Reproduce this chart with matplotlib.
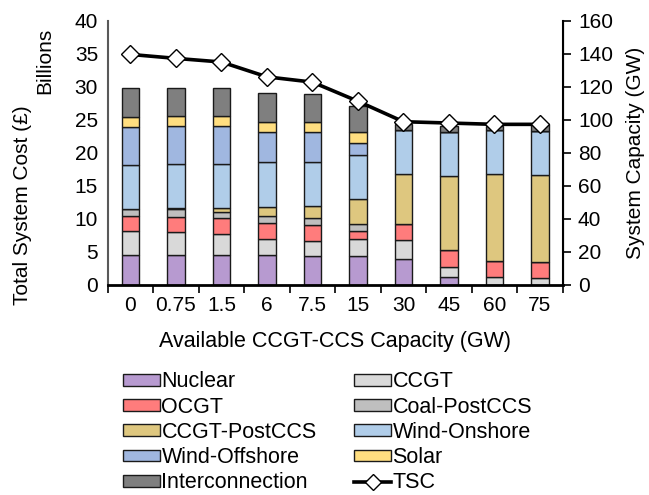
import numpy as np
import matplotlib.pyplot as plt
from matplotlib.patches import Patch
from matplotlib.lines import Line2D

plt.rcParams['font.family'] = ['Liberation Sans', 'DejaVu Sans']

# available CCGT-CCS capacity scenarios (GW)
categories = ['0', '0.75', '1.5', '6', '7.5', '15', '30', '45', '60', '75']

# installed capacity by technology (GW)
nuclear = [17.7, 17.7, 17.7, 17.7, 17.5, 17.5, 15.5, 4.7, 0.0, 0.0]
ccgt = [15.0, 14.4, 12.8, 9.8, 9.1, 10.0, 11.5, 6.1, 4.7, 4.1]
ocgt = [9.0, 9.1, 9.7, 10.0, 9.5, 5.2, 9.8, 10.2, 9.8, 9.8]
coal_ccs = [4.0, 4.6, 4.0, 4.1, 4.1, 4.1, 0.0, 0.0, 0.0, 0.0]
ccgt_ccs = [0.0, 0.5, 2.0, 5.7, 7.5, 15.0, 30.3, 44.9, 52.6, 52.6]
wind_on = [27.1, 27.0, 26.7, 27.3, 26.9, 26.9, 26.8, 26.9, 26.8, 26.9]
wind_off = [22.9, 22.9, 23.3, 18.2, 17.9, 7.4, 0.0, 0.0, 0.0, 0.0]
solar = [6.1, 6.1, 5.8, 6.1, 6.0, 6.4, 0.0, 0.0, 0.0, 0.0]
interconn = [17.2, 17.2, 17.2, 17.3, 17.2, 15.9, 3.4, 3.5, 2.4, 3.9]

# total system cost (billion GBP)
tsc = [34.9, 34.3, 33.75, 31.5, 30.7, 27.8, 24.7, 24.5, 24.3, 24.3]

series = [
    ('Nuclear', nuclear, '#b79ad0'),
    ('CCGT', ccgt, '#d9d9d9'),
    ('OCGT', ocgt, '#ff7c7c'),
    ('Coal-PostCCS', coal_ccs, '#bfbfbf'),
    ('CCGT-PostCCS', ccgt_ccs, '#dec77f'),
    ('Wind-Onshore', wind_on, '#b0cde9'),
    ('Wind-Offshore', wind_off, '#a0b7e0'),
    ('Solar', solar, '#ffde80'),
    ('Interconnection', interconn, '#7f7f7f'),
]

fig = plt.figure(figsize=(6.49, 4.95), dpi=100)
ax = fig.add_axes([0.166, 0.425, 0.701, 0.533])
ax2 = ax.twinx()

x = np.arange(len(categories))
bottom = np.zeros(len(categories))
for name, vals, col in series:
    vals = np.array(vals)
    ax2.bar(x, vals, width=0.39, bottom=bottom, color=col,
            edgecolor='#1a1a1a', linewidth=1.0, label=name)
    bottom += vals

ax.plot(x, tsc, color='black', lw=2.6, marker='D', ms=9.5,
        markerfacecolor='white', markeredgecolor='black', mew=1.0, label='TSC')

# line sits above the bars
ax.set_zorder(ax2.get_zorder() + 1)
ax.patch.set_visible(False)

ax.set_xlim(-0.5, len(categories) - 0.5)
ax.set_ylim(0, 40)
ax2.set_ylim(0, 160)
ax.set_yticks(np.arange(0, 41, 5))
ax2.set_yticks(np.arange(0, 161, 20))

ax.set_xticks(x)
ax.set_xticklabels(categories)
ax.set_xticks(np.arange(-0.5, len(categories), 1), minor=True)
ax.tick_params(axis='x', which='major', length=0, labelsize=15, pad=8)
ax.tick_params(axis='x', which='minor', length=6, width=1.2, color='black')
ax.tick_params(axis='y', length=0, labelsize=15, pad=7)
ax2.tick_params(axis='y', length=6, width=1.2, labelsize=15, pad=5)

for s in ['top']:
    ax.spines[s].set_visible(False)
    ax2.spines[s].set_visible(False)
ax.spines['left'].set_color('#595959')
ax.spines['left'].set_linewidth(1.5)
ax.spines['bottom'].set_linewidth(2.0)
ax2.spines['right'].set_linewidth(1.5)
ax2.spines['left'].set_visible(False)
ax2.spines['bottom'].set_visible(False)

ax.set_xlabel('Available CCGT-CCS Capacity (GW)', fontsize=15.5, labelpad=12)
ax2.set_ylabel('System Capacity (GW)', fontsize=15, labelpad=9)
fig.text(0.034, 0.585, 'Total System Cost (£)', rotation=90, fontsize=15,
         ha='center', va='center')
fig.text(0.069, 0.877, 'Billions', rotation=90, fontsize=15,
         ha='center', va='center')

# legend: fill two columns row by row
patches = {name: Patch(facecolor=col, edgecolor='#1a1a1a', linewidth=1.0)
           for name, _, col in series}
tsc_handle = Line2D([], [], color='black', lw=2.6, marker='D', ms=8.5,
                    markerfacecolor='white', markeredgecolor='black')
col1 = ['Nuclear', 'OCGT', 'CCGT-PostCCS', 'Wind-Offshore', 'Interconnection']
col2 = ['CCGT', 'Coal-PostCCS', 'Wind-Onshore', 'Solar']
handles = [patches[n] for n in col1] + [patches[n] for n in col2] + [tsc_handle]
labels = col1 + col2 + ['TSC']
fig.legend(handles, labels, ncol=2, loc='upper left',
           bbox_to_anchor=(0.19, 0.25), frameon=False, fontsize=15.5,
           handlelength=1.72, handleheight=0.47, handletextpad=0.05,
           columnspacing=1.75, labelspacing=0.2, borderaxespad=0, borderpad=0)

fig.savefig('out.png', dpi=100)
